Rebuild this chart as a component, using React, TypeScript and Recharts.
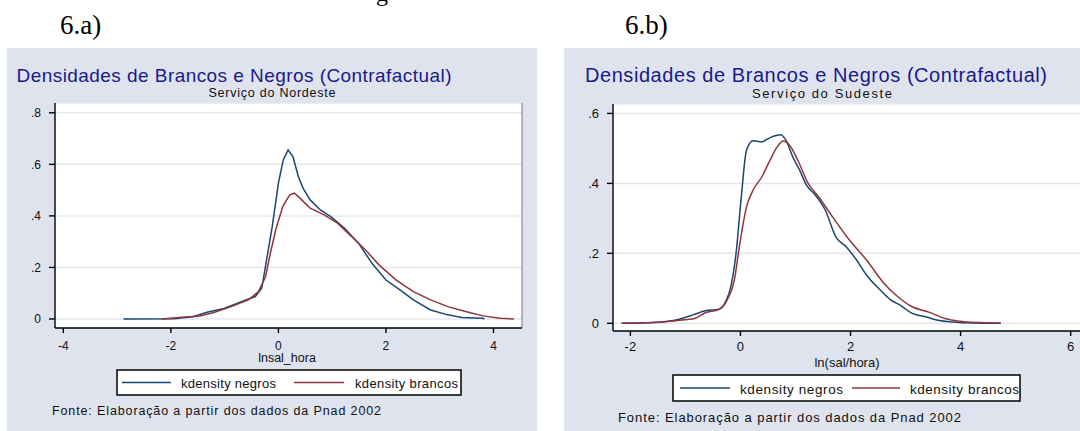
import React from 'react';
import { LineChart, Line, XAxis, YAxis, CartesianGrid, ReferenceLine } from 'recharts';

// Serviço do Nordeste (6.a)
const neNegrosX = [-2.88, -1.94, -1.59, -1.33, -1.01, -0.69, -0.43, -0.31, -0.21, -0.115, 0, 0.09, 0.18, 0.27, 0.37, 0.46, 0.59, 0.78, 0.975, 1.23, 1.49, 1.74, 2.0, 2.26, 2.51, 2.83, 3.15, 3.41, 3.8, 3.83];
const neNegrosY = [0, 0.001, 0.009, 0.026, 0.041, 0.067, 0.087, 0.119, 0.242, 0.358, 0.527, 0.617, 0.656, 0.63, 0.553, 0.507, 0.462, 0.423, 0.397, 0.352, 0.294, 0.216, 0.151, 0.113, 0.074, 0.035, 0.016, 0.006, 0.003, 0];
const neBrancosX = [-2.17, -1.85, -1.46, -1.2, -0.88, -0.56, -0.37, -0.24, -0.15, -0.05, 0.08, 0.21, 0.3, 0.4, 0.59, 0.85, 1.1, 1.36, 1.62, 1.87, 2.19, 2.51, 2.83, 3.15, 3.48, 3.8, 4.12, 4.38];
const neBrancosY = [0, 0.006, 0.012, 0.025, 0.048, 0.074, 0.106, 0.164, 0.255, 0.346, 0.436, 0.482, 0.488, 0.469, 0.43, 0.404, 0.372, 0.32, 0.268, 0.21, 0.151, 0.106, 0.074, 0.048, 0.029, 0.012, 0.003, 0];

// Serviço do Sudeste (6.b)
const seNegrosX = [-2.16, -1.58, -1.08, -0.83, -0.64, -0.39, -0.27, -0.175, -0.08, 0.01, 0.11, 0.23, 0.39, 0.54, 0.73, 0.825, 0.95, 1.075, 1.2, 1.36, 1.54, 1.73, 1.92, 2.11, 2.29, 2.54, 2.73, 2.92, 3.11, 3.36, 3.61, 3.86, 4.23, 4.73];
const seNegrosY = [0, 0.002, 0.013, 0.026, 0.036, 0.04, 0.062, 0.105, 0.2, 0.352, 0.495, 0.522, 0.519, 0.531, 0.539, 0.524, 0.476, 0.438, 0.395, 0.367, 0.324, 0.248, 0.219, 0.181, 0.138, 0.095, 0.067, 0.05, 0.029, 0.019, 0.008, 0.004, 0.001, 0];
const seBrancosX = [-2.16, -1.58, -1.02, -0.83, -0.64, -0.39, -0.24, -0.11, -0.02, 0.11, 0.23, 0.39, 0.54, 0.67, 0.78, 0.89, 1.04, 1.23, 1.42, 1.67, 1.98, 2.29, 2.61, 2.86, 3.11, 3.42, 3.73, 3.98, 4.36, 4.73];
const seBrancosY = [0, 0.002, 0.01, 0.014, 0.03, 0.04, 0.067, 0.124, 0.219, 0.333, 0.381, 0.419, 0.467, 0.505, 0.521, 0.51, 0.467, 0.4, 0.362, 0.305, 0.238, 0.181, 0.114, 0.076, 0.048, 0.032, 0.013, 0.006, 0.002, 0];

const neXTicks = [-4, -2, 0, 2, 4];
const neYTicks = [0, 0.2, 0.4, 0.6, 0.8];
const seXTicks = [-2, 0, 2, 4, 6];
const seYTicks = [0, 0.2, 0.4, 0.6];

const NAVY = '#1a476f';
const MAROON = '#90353b';
const PANEL = '#dee3ee';
const GRID = '#e3e7f0';
const TITLE = '#1a1a8a';
const SANS = '"Liberation Sans", Arial, sans-serif';
const SERIF = '"Liberation Serif", "Times New Roman", serif';

const pairs = (xs: number[], ys: number[]) => xs.map((x, i) => ({ x, y: ys[i] }));

const fmtY = (v: number) => (v === 0 ? '0' : String(v).replace(/^0/, ''));

interface PanelProps {
  negros: { x: number; y: number }[];
  brancos: { x: number; y: number }[];
  xDomain: [number, number];
  yDomain: [number, number];
  xTicks: number[];
  yTicks: number[];
  yAxisWidth: number;
  margin: { top: number; right: number; bottom: number; left: number };
  xAxisHeight: number;
  xTickMargin: number;
  fontSize: number;
  curve: 'linear' | 'monotone';
  border?: boolean;
}

const DensityPanel: React.FC<PanelProps> = (p) => (
  <LineChart width={540} height={280} margin={p.margin}>
    <CartesianGrid vertical={false} stroke={GRID} strokeWidth={1.5} fill="#ffffff" fillOpacity={1} />
    <XAxis
      type="number"
      dataKey="x"
      domain={p.xDomain}
      ticks={p.xTicks}
      interval={0}
      allowDataOverflow
      height={p.xAxisHeight}
      tickSize={5}
      tickMargin={p.xTickMargin}
      axisLine={{ stroke: '#000', strokeWidth: 1.4 }}
      tickLine={{ stroke: '#000', strokeWidth: 1.4 }}
      tick={{ fill: '#111', fontSize: p.fontSize, fontFamily: SANS }}
    />
    <YAxis
      type="number"
      domain={p.yDomain}
      ticks={p.yTicks}
      interval={0}
      allowDataOverflow
      width={p.yAxisWidth}
      tickSize={6}
      tickMargin={8}
      tickFormatter={fmtY}
      axisLine={{ stroke: '#000', strokeWidth: 1.4 }}
      tickLine={{ stroke: '#000', strokeWidth: 1.4 }}
      tick={{ fill: '#111', fontSize: p.fontSize, fontFamily: SANS }}
    />
    {p.border && <ReferenceLine x={p.xDomain[1]} stroke="#8a8a8a" strokeWidth={1.2} />}
    <Line data={p.negros} dataKey="y" type={p.curve} stroke={NAVY} strokeWidth={1.5} dot={false} isAnimationActive={false} />
    <Line data={p.brancos} dataKey="y" type={p.curve} stroke={MAROON} strokeWidth={1.5} dot={false} isAnimationActive={false} />
  </LineChart>
);

const App: React.FC = () => {
  return (
    <div style={{ position: 'absolute', left: 0, top: 0, width: 1080, height: 431, overflow: 'hidden', background: '#fff' }}>
      <div style={{ position: 'absolute', left: 7, top: 48, width: 530, height: 383, background: PANEL }} />
      <div style={{ position: 'absolute', left: 564, top: 48, width: 516, height: 383, background: PANEL }} />

      <div style={{ position: 'absolute', left: 0, top: 96 }}>
        <DensityPanel
          negros={pairs(neNegrosX, neNegrosY)}
          brancos={pairs(neBrancosX, neBrancosY)}
          xDomain={[-4.155, 4.53]}
          yDomain={[-0.035, 0.838]}
          xTicks={neXTicks}
          yTicks={neYTicks}
          yAxisWidth={55}
          margin={{ top: 7, right: 18, bottom: 0, left: 0 }}
          xAxisHeight={48}
          xTickMargin={8}
          fontSize={12}
          curve="linear"
          border
        />
      </div>
      <div style={{ position: 'absolute', left: 560, top: 96 }}>
        <DensityPanel
          negros={pairs(seNegrosX, seNegrosY)}
          brancos={pairs(seBrancosX, seBrancosY)}
          xDomain={[-2.316, 6.424]}
          yDomain={[-0.022, 0.627]}
          xTicks={seXTicks}
          yTicks={seYTicks}
          yAxisWidth={53}
          margin={{ top: 8, right: 6, bottom: 0, left: 0 }}
          xAxisHeight={45}
          xTickMargin={6}
          fontSize={13}
          curve="monotone"
        />
      </div>

      <svg width={1080} height={431} style={{ position: 'absolute', left: 0, top: 0, pointerEvents: 'none' }}>
        <text x={376} y={1} fontFamily={SERIF} fontSize={24} fill="#000">g</text>
        <text x={60} y={34} fontFamily={SERIF} fontSize={27} fill="#000">6.a)</text>
        <text x={625} y={34} fontFamily={SERIF} fontSize={27} fill="#000">6.b)</text>

        <text x={16.5} y={82} fontFamily={SANS} fontSize={19} fill={TITLE} textLength={435} lengthAdjust="spacing">
          Densidades de Brancos e Negros (Contrafactual)
        </text>
        <text x={208.5} y={97} fontFamily={SANS} fontSize={12.5} fill="#111" textLength={127} lengthAdjust="spacing">Serviço do Nordeste</text>
        <text x={287} y={362} fontFamily={SANS} fontSize={12.5} fill="#111" textAnchor="middle">lnsal_hora</text>
        <rect x={117} y={370} width={344} height={25} fill="#fff" stroke="#000" strokeWidth={1.5} />
        <line x1={122} x2={171} y1={382.5} y2={382.5} stroke={NAVY} strokeWidth={1.5} />
        <text x={181} y={388} fontFamily={SANS} fontSize={13} fill="#111" textLength={95} lengthAdjust="spacing">kdensity negros</text>
        <line x1={294} x2={344} y1={382.5} y2={382.5} stroke={MAROON} strokeWidth={1.5} />
        <text x={355} y={388} fontFamily={SANS} fontSize={13} fill="#111" textLength={103} lengthAdjust="spacing">kdensity brancos</text>
        <text x={52} y={415} fontFamily={SANS} fontSize={12.5} fill="#111" textLength={329} lengthAdjust="spacing">
          Fonte: Elaboração a partir dos dados da Pnad 2002
        </text>

        <text x={585} y={82} fontFamily={SANS} fontSize={20} fill={TITLE} textLength={462} lengthAdjust="spacing">
          Densidades de Brancos e Negros (Contrafactual)
        </text>
        <text x={752} y={97.5} fontFamily={SANS} fontSize={13} fill="#111" textLength={140} lengthAdjust="spacing">Serviço do Sudeste</text>
        <text x={847} y={367} fontFamily={SANS} fontSize={13} fill="#111" textAnchor="middle">ln(sal/hora)</text>
        <rect x={673} y={375} width={347} height={26} fill="#fff" stroke="#000" strokeWidth={1.5} />
        <line x1={680} x2={730} y1={388} y2={388} stroke={NAVY} strokeWidth={1.5} />
        <text x={740} y={394} fontFamily={SANS} fontSize={13.5} fill="#111" textLength={103} lengthAdjust="spacing">kdensity negros</text>
        <line x1={852} x2={900} y1={388} y2={388} stroke={MAROON} strokeWidth={1.5} />
        <text x={910} y={394} fontFamily={SANS} fontSize={13.5} fill="#111" textLength={109} lengthAdjust="spacing">kdensity brancos</text>
        <text x={618} y={421.5} fontFamily={SANS} fontSize={13} fill="#111" textLength={343} lengthAdjust="spacing">
          Fonte: Elaboração a partir dos dados da Pnad 2002
        </text>
      </svg>
    </div>
  );
};

export default App;
